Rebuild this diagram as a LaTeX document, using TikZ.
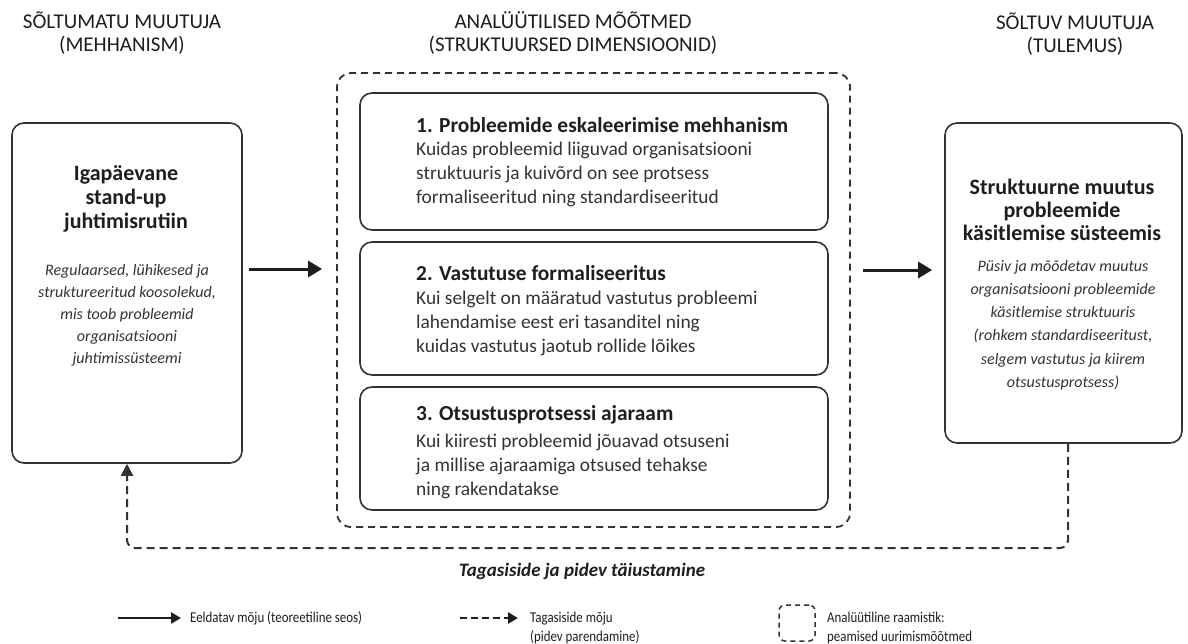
\documentclass[tikz,border=0pt]{standalone}
\usepackage{fontspec}
\setmainfont{Carlito}
\newfontfamily\legfont[FakeStretch=0.86]{Carlito}
\usetikzlibrary{arrows.meta}
\definecolor{ink}{HTML}{1E1E1E}
\definecolor{linec}{HTML}{333333}
\definecolor{soft}{HTML}{333333}

\begin{document}
\begin{tikzpicture}[x=1pt,y=-1pt,
  card/.style={draw=linec, line width=1.6pt, rounded corners=12pt, inner sep=0pt},
  frame/.style={draw=linec, line width=1.8pt, dash pattern=on 7pt off 5pt, rounded corners=14pt, inner sep=0pt},
  head/.style={font=\fontsize{21}{23}\selectfont, text=ink, align=center},
  ttl/.style={font=\bfseries\fontsize{22}{24}\selectfont, text=ink, align=center},
  desc/.style={font=\itshape\fontsize{16}{22}\selectfont, text=soft, align=center},
  dtitle/.style={font=\bfseries\fontsize{21.4}{24}\selectfont, text=ink, anchor=base west, inner sep=0pt},
  dtext/.style={font=\fontsize{19.4}{24}\selectfont, text=soft, align=left, anchor=west, inner sep=0pt},
  flow/.style={draw=ink, line width=3pt, -{Triangle[length=14pt,width=16pt]}},
  fb/.style={draw=linec, line width=2pt, dash pattern=on 8pt off 5pt, rounded corners=8pt, -{Triangle[length=12pt,width=12pt]}},
  leg/.style={font=\legfont\fontsize{15}{19}\selectfont, text=ink, align=left, anchor=west, inner sep=0pt}
]
\useasboundingbox (0,0) rectangle (1188,643);

% column headings
\node[head] (h1) at (122,33.5) {SÕLTUMATU MUUTUJA\\(MEHHANISM)};
\node[head] (h2) at (573,33.5) {ANALÜÜTILISED MÕÕTMED\\(STRUKTUURSED DIMENSIOONID)};
\node[head] (h3) at (1075,34) {SÕLTUV MUUTUJA\\(TULEMUS)};

% independent variable
\node[card, minimum width=230pt, minimum height=340pt] (src) at (127,293) {};
\node[ttl] (srcT) at (126,199) {Igapäevane\\stand-up\\juhtimisrutiin};
\node[desc] (srcD) at (127,315) {Regulaarsed, lühikesed ja\\struktureeritud koosolekud,\\mis toob probleemid\\organisatsiooni\\juhtimissüsteemi};

% analytical dimensions
\node[frame, minimum width=513pt, minimum height=454pt] (frame) at (593.5,300) {};
\node[card, minimum width=468pt, minimum height=137pt] (d1) at (594,161.5) {};
\node[card, minimum width=468pt, minimum height=133pt] (d2) at (594,308.5) {};
\node[card, minimum width=468pt, minimum height=123pt] (d3) at (594,448.5) {};

\node[dtitle] (d1T) at (416,132) {1. Probleemide eskaleerimise mehhanism};
\node[dtext] (d1D) at (416,174) {Kuidas probleemid liiguvad organisatsiooni\\struktuuris ja kuivõrd on see protsess\\formaliseeritud ning standardiseeritud};
\node[dtitle] (d2T) at (416,280) {2. Vastutuse formaliseeritus};
\node[dtext] (d2D) at (416,323) {Kui selgelt on määratud vastutus probleemi\\lahendamise eest eri tasanditel ning\\kuidas vastutus jaotub rollide lõikes};
\node[dtitle] (d3T) at (416,420) {3. Otsustusprotsessi ajaraam};
\node[dtext] (d3D) at (416,466) {Kui kiiresti probleemid jõuavad otsuseni\\ja millise ajaraamiga otsused tehakse\\ning rakendatakse};

% dependent variable
\node[card, minimum width=237pt, minimum height=320pt] (tgt) at (1063.5,283) {};
\node[ttl, font=\bfseries\fontsize{22}{23}\selectfont] (tgtT) at (1062,210) {Struktuurne muutus\\probleemide\\käsitlemise süsteemis};
\node[desc, font=\itshape\fontsize{16}{23.2}\selectfont] (tgtD) at (1063,325) {Püsiv ja mõõdetav muutus\\organisatsiooni probleemide\\käsitlemise struktuuris\\(rohkem standardiseeritust,\\selgem vastutus ja kiirem\\otsustusprotsess)};

% assumed influence
\draw[flow, shorten <=6pt, shorten >=14pt] (src.east |- 0,269) -- (frame.west |- 0,269);
\draw[flow, shorten <=12pt, shorten >=12pt] (frame.east |- 0,270) -- (tgt.west |- 0,270);

% feedback loop
\draw[fb] ([xshift=4.5pt]tgt.south) |- (127,548) -- (src.south);
\node[font=\bfseries\itshape\fontsize{19}{21}\selectfont, text=ink] (fbl) at (582,571) {Tagasiside ja pidev täiustamine};

% legend
\coordinate (l1s) at (118,618);
\coordinate (l1e) at (181,618);
\draw[draw=ink, line width=2.5pt, -{Triangle[length=10pt,width=11pt]}] (l1s) -- (l1e);
\node[leg] (l1t) at (190,618) {Eeldatav mõju (teoreetiline seos)};

\coordinate (l2s) at (460,618);
\coordinate (l2e) at (518,618);
\draw[draw=ink, line width=2.5pt, dash pattern=on 7pt off 4pt, -{Triangle[length=10pt,width=11pt]}] (l2s) -- (l2e);
\node[leg] (l2t) at (530,627.5) {Tagasiside mõju\\(pidev parendamine)};

\node[draw=linec, line width=1.5pt, dash pattern=on 5pt off 4pt, rounded corners=6pt, minimum width=36pt, minimum height=36pt, inner sep=0pt] (l3b) at (797,623) {};
\node[leg] (l3t) at (827,627.5) {Analüütiline raamistik:\\peamised uurimismõõtmed};
\end{tikzpicture}
\end{document}
